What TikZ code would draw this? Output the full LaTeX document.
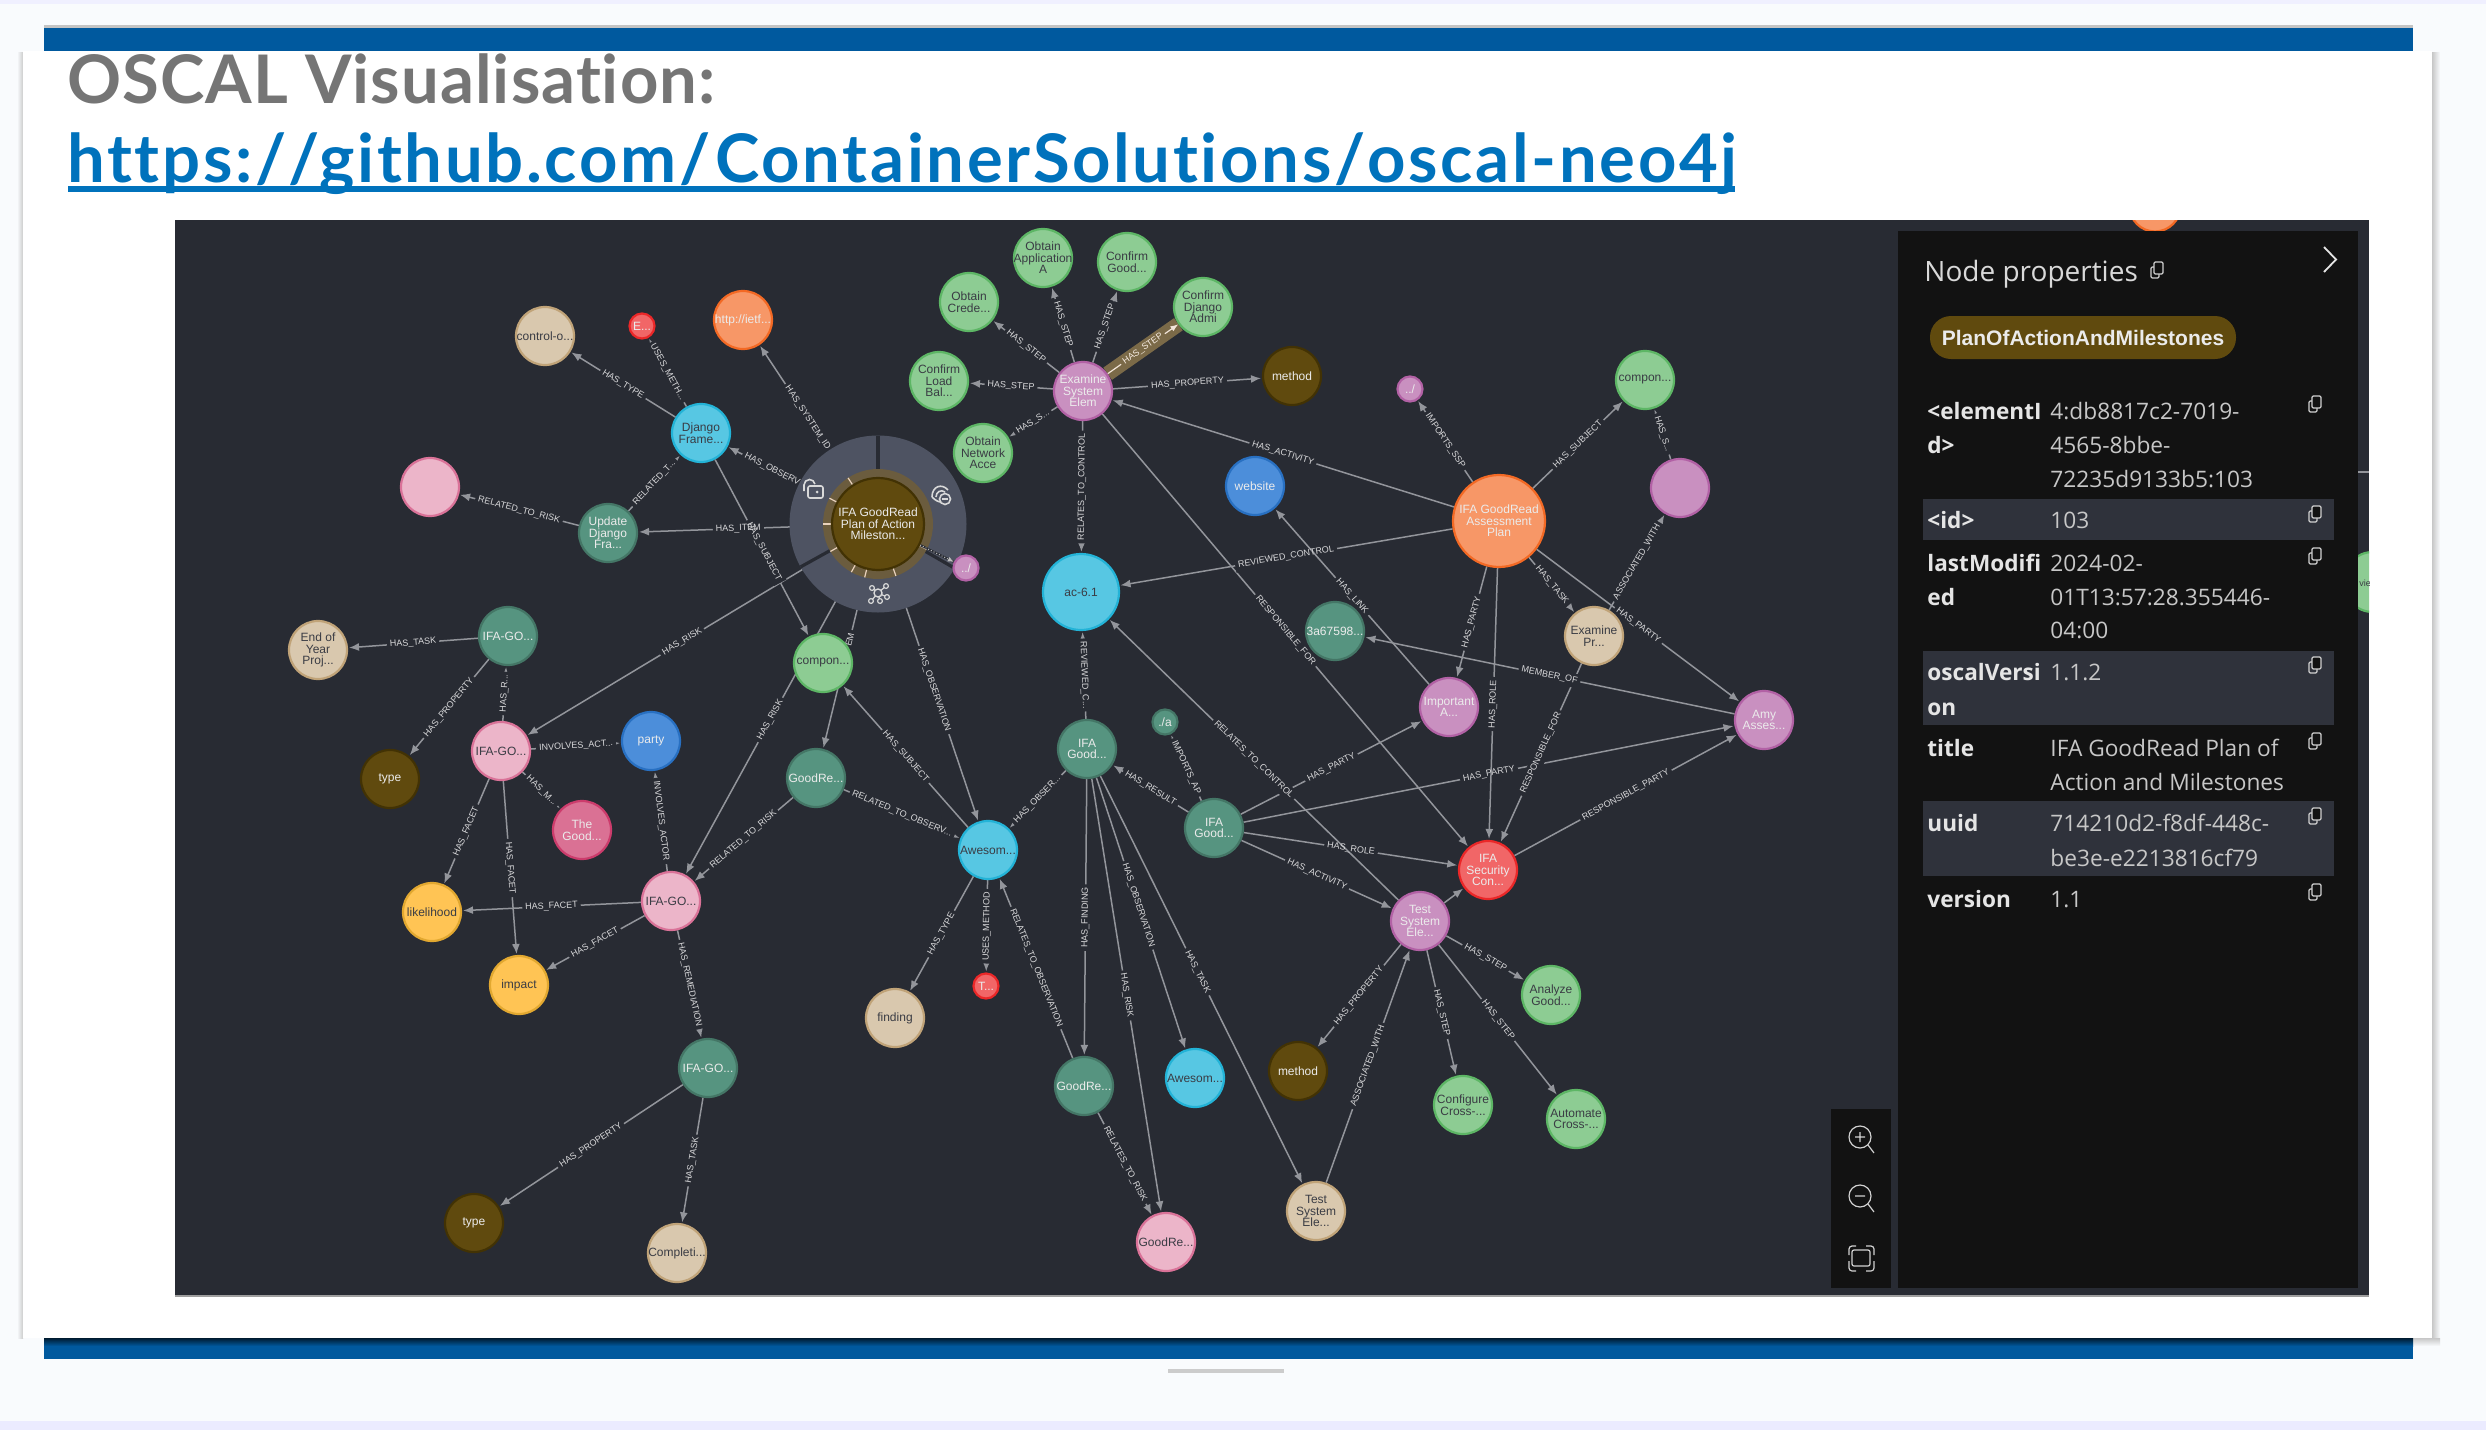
\documentclass[tikz,border=0pt]{standalone}
\usepackage{fontspec}
\setmainfont{Liberation Sans}
\newfontfamily\latotitle[Ligatures=NoCommon,LetterSpace=1.5]{Lato}
\newfontfamily\latolink[Ligatures=NoCommon,LetterSpace=3.95]{Lato}
\newfontfamily\opensf{Open Sans}
\usetikzlibrary{arrows.meta}
\definecolor{panelbg}{HTML}{282B33}
\definecolor{panelblk}{HTML}{121212}
\definecolor{rowbg}{HTML}{2F323B}
\definecolor{edgec}{HTML}{93959B}
\definecolor{lblc}{HTML}{D8D8DA}
\definecolor{ringc}{HTML}{4E5362}
\definecolor{haloc}{HTML}{6B5C3E}
\definecolor{bandc}{HTML}{7B6A48}
\definecolor{blueb}{HTML}{00599E}
\definecolor{linkc}{HTML}{0072BC}
\definecolor{txtd}{HTML}{3A3C44}
\definecolor{pagec}{HTML}{F9FBFD}
\pgfdeclarelayer{base}\pgfdeclarelayer{edges}\pgfdeclarelayer{elab}\pgfdeclarelayer{ring}\pgfdeclarelayer{top}
\pgfsetlayers{base,edges,elab,ring,main,top}
\tikzset{
 x=0.5pt,y=-0.5pt,
 nd/.style={circle,inner sep=0pt,minimum size=29pt,line width=1.1pt},
 small/.style={minimum size=12.5pt},
 ntxt/.style={font=\fontsize{6}{5.75}\selectfont,align=center,inner sep=0pt},
 dk/.style={ntxt,text=txtd},
 lt/.style={ntxt,text=white!92!black},
 edgeline/.style={draw=edgec,line width=0.75pt,-{Latex[length=5pt,width=4pt]},shorten >=0.5pt},
 elabel/.style={font=\fontsize{4.5}{5}\selectfont,text=lblc,inner sep=1.5pt,sloped},
 sideval/.style={font=\opensf\fontsize{11.35}{12}\selectfont,text=white!78!black,anchor=base west,inner sep=0pt},
 sidekey/.style={font=\opensf\bfseries\fontsize{11.3}{12}\selectfont,text=white!90!black,anchor=base west,inner sep=0pt},
 iconl/.style={draw=white!82!black,line width=0.6pt},
 ringicon/.style={draw=white!85!black,line width=0.8pt},
}
\tikzset{
 greenn/.style={nd,fill={rgb,255:red,141;green,204;blue,147},draw={rgb,255:red,93;green,182;blue,101}},
 pinkn/.style={nd,fill={rgb,255:red,236;green,181;blue,201},draw={rgb,255:red,218;green,114;blue,152}},
 purplen/.style={nd,fill={rgb,255:red,201;green,144;blue,192},draw={rgb,255:red,178;green,97;blue,165}},
 tann/.style={nd,fill={rgb,255:red,217;green,200;blue,174},draw={rgb,255:red,192;green,163;blue,120}},
 tealn/.style={nd,fill={rgb,255:red,86;green,148;blue,128},draw={rgb,255:red,68;green,118;blue,102}},
 bluen/.style={nd,fill={rgb,255:red,76;green,142;blue,218},draw={rgb,255:red,40;green,112;blue,194}},
 cyann/.style={nd,fill={rgb,255:red,87;green,199;blue,227},draw={rgb,255:red,35;green,179;blue,215}},
 orangen/.style={nd,fill={rgb,255:red,247;green,151;blue,103},draw={rgb,255:red,243;green,105;blue,36}},
 redn/.style={nd,fill={rgb,255:red,241;green,102;blue,103},draw={rgb,255:red,235;green,39;blue,40}},
 yellown/.style={nd,fill={rgb,255:red,255;green,196;blue,84},draw={rgb,255:red,226;green,168;blue,48}},
 brownn/.style={nd,fill={rgb,255:red,96;green,74;blue,14},draw={rgb,255:red,66;green,50;blue,4}},
 magentan/.style={nd,fill={rgb,255:red,218;green,113;blue,148},draw={rgb,255:red,204;green,60;blue,108}},
}
% name, shape style, text style, x, y, text
\newcommand\GN[6]{\node[#2,label={[#3]center:#6}] (#1) at (#4,#5) {};}
% pos, from, to, label : the line and its gap below, the label's text above all lines
\newcommand\GE[4][.5]{\begin{pgfonlayer}{edges}\draw[edgeline] (#2) -- (#3) node[elabel,pos=#1,fill=panelbg] {\phantom{#4}};\end{pgfonlayer}\begin{pgfonlayer}{elab}\path (#2) -- (#3) node[elabel,pos=#1] {#4};\end{pgfonlayer}}
\newcommand\GEP[2]{\begin{pgfonlayer}{edges}\draw[edgeline] (#1) -- (#2);\end{pgfonlayer}}
\newcommand\copyicon[2]{\draw[iconl,rounded corners=0.6pt] (#1-5,#2-3) rectangle (#1+3,#2+8);\draw[iconl,fill=panelblk,rounded corners=0.6pt] (#1-2,#2-8) rectangle (#1+7,#2+4);}
\begin{document}
\begin{tikzpicture}
\useasboundingbox (0,0) rectangle (2486,1430);
\begin{pgfonlayer}{base}
\fill[pagec] (0,0) rectangle (2486,1430);
\fill[blue!6!white] (0,0) rectangle (2486,4);
\fill[blue!8!white] (0,1421) rectangle (2486,1430);
\fill[white!77!black] (44,25) rectangle (2413,28);
\fill[blueb] (44,28) rectangle (2413,52);
\fill[blueb] (44,1330) rectangle (2413,1359);
\shade[left color=pagec,right color=white!80!black] (17,52) rectangle (23,1338);
\shade[left color=white!78!black,right color=pagec] (2432,52) rectangle (2440,1338);
\shade[top color=white!78!black,bottom color=pagec] (2413,1338) rectangle (2440,1346);
\shade[top color=black!70!blueb,bottom color=blueb] (44,1338) rectangle (2413,1346);
\fill[white] (23,51) rectangle (2432,1338);
\fill[white!80!black] (1168,1369) rectangle (1284,1373);
\node[anchor=base west,inner sep=0pt,font=\latotitle\bfseries\fontsize{33.5}{36}\selectfont,text=white!46!black] (title) at (67,103) {OSCAL Visualisation:};
\node[anchor=base west,inner sep=0pt,font=\latolink\bfseries\fontsize{33.5}{36}\selectfont,text=linkc] (url) at (67,182) {https:/\kern1pt/github.com/\kern2.5pt ContainerSolutions/\kern1pt oscal-neo4j};
\fill[linkc] (68,186) rectangle (1735,192);
\fill[white!62!black] (175,1295) rectangle (2369,1297);
\fill[panelbg] (175,220) rectangle (2369,1295);
\end{pgfonlayer}

% ---- nodes
\GN{pl}{brownn,minimum size=46pt}{lt}{878}{524}{IFA GoodRead\\Plan of Action\\Mileston...}
\GN{control}{tann}{dk}{545}{336}{control-o...}
\GN{e1}{redn,small}{lt}{642}{326}{E...}
\GN{http}{orangen}{lt}{743}{320}{http://ietf...}
\GN{django}{cyann}{dk}{701}{433}{Django\\Frame...}
\GN{pinkb}{pinkn}{dk}{430}{487}{}
\GN{update}{tealn}{lt}{608}{533}{Update\\Django\\Fra...}
\GN{compa}{greenn}{dk}{823}{663}{compon...}
\GN{endyr}{tann}{dk}{318}{650}{End of\\Year\\Proj...}
\GN{ifat}{tealn}{lt}{508}{636}{IFA-GO...}
\GN{ifap}{pinkn}{dk}{501}{751}{IFA-GO...}
\GN{party}{bluen}{lt}{651}{741}{party}
\GN{typea}{brownn}{lt}{390}{779}{type}
\GN{gra}{tealn}{lt}{816}{778}{GoodRe...}
\GN{thegood}{magentan}{lt}{582}{830}{The\\Good...}
\GN{likely}{yellown}{dk}{432}{912}{likelihood}
\GN{impact}{yellown}{dk}{519}{985}{impact}
\GN{ifaq}{pinkn}{dk}{671}{901}{IFA-GO...}
\GN{awea}{cyann}{dk}{988}{850}{Awesom...}
\GN{finding}{tann}{dk}{895}{1018}{finding}
\GN{tdot}{redn,small}{lt}{986}{986}{T...}
\GN{ifaz}{tealn}{lt}{708}{1068}{IFA-GO...}
\GN{typeb}{brownn}{lt}{474}{1223}{type}
\GN{complet}{tann}{dk}{677}{1253}{Completi...}
\GN{obapp}{greenn}{dk}{1043}{258}{Obtain\\Application\\A}
\GN{cgood}{greenn}{dk}{1127}{262}{Confirm\\Good...}
\GN{obcred}{greenn}{dk}{969}{302}{Obtain\\Crede...}
\GN{cdj}{greenn}{dk}{1203}{307}{Confirm\\Django\\Admi}
\GN{cload}{greenn}{dk}{939}{381}{Confirm\\Load\\Bal...}
\GN{exsys}{purplen}{lt}{1083}{391}{Examine\\System\\Elem}
\GN{metha}{brownn}{lt}{1292}{376}{method}
\GN{obnet}{greenn}{dk}{983}{453}{Obtain\\Network\\Acce}
\GN{dota}{purplen,small}{lt}{1410}{389}{../}
\GN{compb}{greenn}{dk}{1645}{380}{compon...}
\GN{purpb}{purplen}{lt}{1680}{488}{}
\GN{website}{bluen}{lt}{1255}{486}{website}
\GN{assess}{orangen,minimum size=46pt}{lt}{1499}{521}{IFA GoodRead\\Assessment\\Plan}
\GN{ac}{cyann,minimum size=38pt}{dk}{1081}{592}{ac-6.1}
\GN{threea}{tealn}{lt}{1335}{631}{3a67598...}
\GN{expr}{tann}{dk}{1594}{636}{Examine\\Pr...}
\GN{import}{purplen}{lt}{1449}{707}{Important\\A...}
\GN{amy}{purplen}{lt}{1764}{720}{Amy\\Asses...}
\GN{ifag}{tealn}{lt}{1087}{749}{IFA\\Good...}
\GN{dotb}{tealn,small}{lt}{1165}{722}{./a}
\GN{dotc}{purplen,small}{lt}{966}{568}{../}
\GN{ifah}{tealn}{lt}{1214}{828}{IFA\\Good...}
\GN{secur}{redn}{lt}{1488}{870}{IFA\\Security\\Con...}
\GN{testa}{purplen}{lt}{1420}{921}{Test\\System\\Ele...}
\GN{analyze}{greenn}{dk}{1551}{995}{Analyze\\Good...}
\GN{methb}{brownn}{lt}{1298}{1071}{method}
\GN{config}{greenn}{dk}{1463}{1105}{Configure\\Cross-...}
\GN{autom}{greenn}{dk}{1576}{1119}{Automate\\Cross-...}
\GN{grb}{tealn}{lt}{1084}{1086}{GoodRe...}
\GN{aweb}{cyann}{dk}{1195}{1078}{Awesom...}
\GN{grc}{pinkn}{dk}{1166}{1242}{GoodRe...}
\GN{testb}{tann}{dk}{1316}{1211}{Test\\System\\Ele...}

% ---- edges
\GE[.48]{pl}{http}{HAS\_SYSTEM\_ID}
\GE[.59]{pl}{django}{HAS\_OBSERV}
\GE[.48]{pl}{update}{HAS\_ITEM}
\GE{pl}{ifap}{HAS\_RISK}
\GE{pl}{ifaq}{HAS\_RISK}
\GE[.39]{pl}{gra}{EM}
\GE[.48]{pl}{awea}{HAS\_OBSERVATION}
\GE{django}{control}{HAS\_TYPE}
\GE{django}{e1}{USES\_METH...}
\GE[.52]{django}{compa}{HAS\_SUBJECT}
\GE{update}{django}{RELATED\_T...}
\GE{update}{pinkb}{RELATED\_TO\_RISK}
\GE{ifat}{endyr}{HAS\_TASK}
\GE{ifat}{typea}{HAS\_PROPERTY}
\GE{ifap}{ifat}{HAS\_R...}
\GE{ifap}{party}{INVOLVES\_ACT...}
\GE{ifap}{thegood}{HAS\_M...}
\GE{ifap}{likely}{HAS\_FACET}
\GE{ifap}{impact}{HAS\_FACET}
\GE{ifaq}{party}{INVOLVES\_ACTOR}
\GE{ifaq}{likely}{HAS\_FACET}
\GE{ifaq}{impact}{HAS\_FACET}
\GE{ifaq}{ifaz}{HAS\_REMEDIATION}
\GE{ifaz}{typeb}{HAS\_PROPERTY}
\GE{ifaz}{complet}{HAS\_TASK}
\GE{gra}{ifaq}{RELATED\_TO\_RISK}
\GE{gra}{awea}{RELATED\_TO\_OBSERV...}
\GE{awea}{compa}{HAS\_SUBJECT}
\GE{awea}{finding}{HAS\_TYPE}
\GE{awea}{tdot}{USES\_METHOD}
\GE{grb}{awea}{RELATES\_TO\_OBSERVATION}
\GE{ifag}{awea}{HAS\_OBSER...}
\GE{ifag}{grb}{HAS\_FINDING}
\GE{ifag}{grc}{HAS\_RISK}
\GE[.47]{ifag}{aweb}{HAS\_OBSERVATION}
\GE[.48]{ifag}{testb}{HAS\_TASK}
\GE{ifag}{ac}{REVIEWED\_C...}
\GE{ifah}{ifag}{HAS\_RESULT}
\GE{ifah}{dotb}{IMPORTS\_AP}
\GE{ifah}{import}{HAS\_PARTY}
\GE{ifah}{amy}{HAS\_PARTY}
\GE{ifah}{secur}{HAS\_ROLE}
\GE{ifah}{testa}{HAS\_ACTIVITY}
\GE{testa}{ac}{RELATES\_TO\_CONTROL}
\GEP{testa}{secur}
\GE{testa}{analyze}{HAS\_STEP}
\GE{testa}{config}{HAS\_STEP}
\GE{testa}{autom}{HAS\_STEP}
\GE{testa}{methb}{HAS\_PROPERTY}
\GE{testb}{testa}{ASSOCIATED\_WITH}
\GE{grb}{grc}{RELATES\_TO\_RISK}
\GE{exsys}{obcred}{HAS\_STEP}
\GE{exsys}{obapp}{HAS\_STEP}
\GE{exsys}{cgood}{HAS\_STEP}
\GE{exsys}{cload}{HAS\_STEP}
\GE{exsys}{obnet}{HAS\_S...}
\GE{exsys}{metha}{HAS\_PROPERTY}
\GE{exsys}{ac}{RELATES\_TO\_CONTROL}
\GE{exsys}{secur}{RESPONSIBLE\_FOR}
\GE{assess}{exsys}{HAS\_ACTIVITY}
\GE{assess}{ac}{REVIEWED\_CONTROL}
\GE{assess}{dota}{IMPORTS\_SSP}
\GE{assess}{compb}{HAS\_SUBJECT}
\GE{assess}{expr}{HAS\_TASK}
\GE{assess}{import}{HAS\_PARTY}
\GE{assess}{secur}{HAS\_ROLE}
\GE{assess}{amy}{HAS\_PARTY}
\GE{purpb}{compb}{HAS\_S...}
\GE{expr}{purpb}{ASSOCIATED\_WITH}
\GE{expr}{secur}{RESPONSIBLE\_FOR}
\GE{import}{website}{HAS\_LINK}
\GE{amy}{threea}{MEMBER\_OF}
\GE{secur}{amy}{RESPONSIBLE\_PARTY}
% highlighted relationship
\begin{pgfonlayer}{edges}
\draw[bandc,line width=7.5pt] (exsys) -- (cdj);
\draw[draw=white!80!brown,line width=0.6pt,-{Latex[length=4pt,width=3pt]}] (exsys) -- (cdj) node[midway,sloped,fill=bandc,inner sep=1.5pt,font=\fontsize{4.5}{5}\selectfont,text=white!85!brown] {HAS\_STEP};
\end{pgfonlayer}

% ---- context ring
\begin{pgfonlayer}{ring}
\fill[ringc] (pl.center) circle[radius=88.5];
\draw[panelbg,line width=1.6pt] (pl.center) -- ++(0,-88.5);
\draw[panelbg,line width=1.6pt] (pl.center) -- ++(76.6,44.2);
\draw[panelbg,line width=1.6pt] (pl.center) -- ++(-77.4,42.9);
\fill[haloc] (pl.center) circle[radius=55];
\foreach \a in {123,152,180,210,241,256,289,332.5}
  \draw[white!65!brown,line width=0.6pt] (pl.center) ++(-\a:46) -- ++(-\a:9);
% open lock
\draw[ringicon,rounded corners=1pt] (808,486) rectangle (823,498);
\fill[white!85!black] (817,492) circle[radius=1.5];
\draw[ringicon] (804,491) -- (804,485) arc[start angle=180,end angle=350,radius=5.5];
% hidden-eye
\draw[ringicon] (932,497) .. controls (932,486) and (942,483) .. (948,490) (932,497) .. controls (936,501) and (939,502) .. (941,502);
\draw[ringicon] (936,497) .. controls (936,492) and (941,489) .. (945,492);
\draw[ringicon] (945,499) circle[radius=5.5];
\draw[ringicon] (942,499) -- (948,499);
% graph icon
\draw[ringicon,line width=0.6pt] (878,593) -- (872,588) (878,593) -- (886,586) (878,593) -- (871,601) (878,593) -- (887,597) (878,593) -- (880,601);
\fill[ringc,draw=white!85!black,line width=0.7pt] (878,593) circle[radius=4];
\foreach \p/\q in {872/588,886/586,871/601,887/597,880/601}
 \fill[ringc,draw=white!85!black,line width=0.6pt] (\p,\q) circle[radius=2.4];
% the relationship to the small node, highlighted
\draw[panelbg,line width=1.1pt] (pl) -- (dotc);
\draw[densely dotted,white!75!black,line width=0.5pt,-{Latex[length=3pt,width=2.5pt]}] (pl) -- (dotc);
\end{pgfonlayer}

% ---- panel overlays
\begin{pgfonlayer}{top}
\begin{scope}
\clip (175,220) rectangle (2369,1295);
\node[orangen,minimum size=25.5pt] (clipa) at (2155,206) {};
\node[greenn,minimum size=30pt] (clipb) at (2373,582) {};
\draw[edgec,line width=0.6pt] (2355,472) -- (2369,472);
\node[font=\fontsize{4.5}{5}\selectfont,text=txtd,inner sep=0pt] (vie) at (2365,583) {vie};
\end{scope}
\fill[panelblk] (1898,231) rectangle (2358,1288);
\fill[panelblk] (1831,1109) rectangle (1891,1288);
\foreach \ya/\yb in {499/540,651/725,801/876}
  \fill[rowbg] (1923,\ya) rectangle (2334,\yb);
\node[anchor=base west,inner sep=0pt,font=\opensf\fontsize{14}{16}\selectfont,text=white!85!black] (np) at (1924,281) {Node properties};
\copyicon{2156}{270}
\draw[white!90!black,line width=0.9pt] (2324,247) -- (2336,259.5) -- (2324,272);
\node[fill={rgb,255:red,96;green,74;blue,14},rounded corners=10.5pt,minimum width=153pt,minimum height=21.5pt,inner sep=0pt,font=\bfseries\fontsize{10.5}{12}\selectfont,text=white!92!black] (pill) at (2083,337.5) {PlanOfActionAndMilestones};
% property rows
\node[sidekey] (k1a) at (1927,419) {<elementI};
\node[sidekey] (k1b) at (1927,453) {d>};
\node[sideval] (v1a) at (2050,419) {4:db8817c2-7019-};
\node[sideval] (v1b) at (2050,453) {4565-8bbe-};
\node[sideval] (v1c) at (2050,487) {72235d9133b5:103};
\node[sidekey] (k2) at (1927,528.5) {<id>};
\node[sideval] (v2) at (2050,528.5) {103};
\node[sidekey] (k3a) at (1927,571) {lastModifi};
\node[sidekey] (k3b) at (1927,605.5) {ed};
\node[sideval] (v3a) at (2050,571) {2024-02-};
\node[sideval] (v3b) at (2050,605.5) {01T13:57:28.355446-};
\node[sideval] (v3c) at (2050,638.5) {04:00};
\node[sidekey] (k4a) at (1927,680.5) {oscalVersi};
\node[sidekey] (k4b) at (1927,715) {on};
\node[sideval] (v4) at (2050,680.5) {1.1.2};
\node[sidekey] (k5) at (1927,756) {title};
\node[sideval] (v5a) at (2050,756) {IFA GoodRead Plan of};
\node[sideval] (v5b) at (2050,790.5) {Action and Milestones};
\node[sidekey] (k6) at (1927,831.5) {uuid};
\node[sideval] (v6a) at (2050,831.5) {714210d2-f8df-448c-};
\node[sideval] (v6b) at (2050,866) {be3e-e2213816cf79};
\node[sidekey] (k7) at (1927,907) {version};
\node[sideval] (v7) at (2050,907) {1.1};
\foreach \yy in {404,514,556,665,741,816,892}{\copyicon{2314}{\yy}}
% zoom controls
\draw[iconl] (1860,1137) circle[radius=11];
\draw[iconl] (1868,1145) -- (1874,1153) (1855,1137) -- (1865,1137) (1860,1132) -- (1860,1142);
\draw[iconl] (1860,1196) circle[radius=11];
\draw[iconl] (1868,1204) -- (1874,1212) (1855,1196) -- (1865,1196);
\draw[iconl,rounded corners=1pt] (1852,1250) rectangle (1870,1266);
\draw[iconl,rounded corners=1.5pt] (1849,1255) -- (1849,1246) -- (1856,1246) (1866,1246) -- (1874,1246) -- (1874,1255) (1874,1261) -- (1874,1271) -- (1866,1271) (1856,1271) -- (1849,1271) -- (1849,1261);
\end{pgfonlayer}
\end{tikzpicture}
\end{document}
